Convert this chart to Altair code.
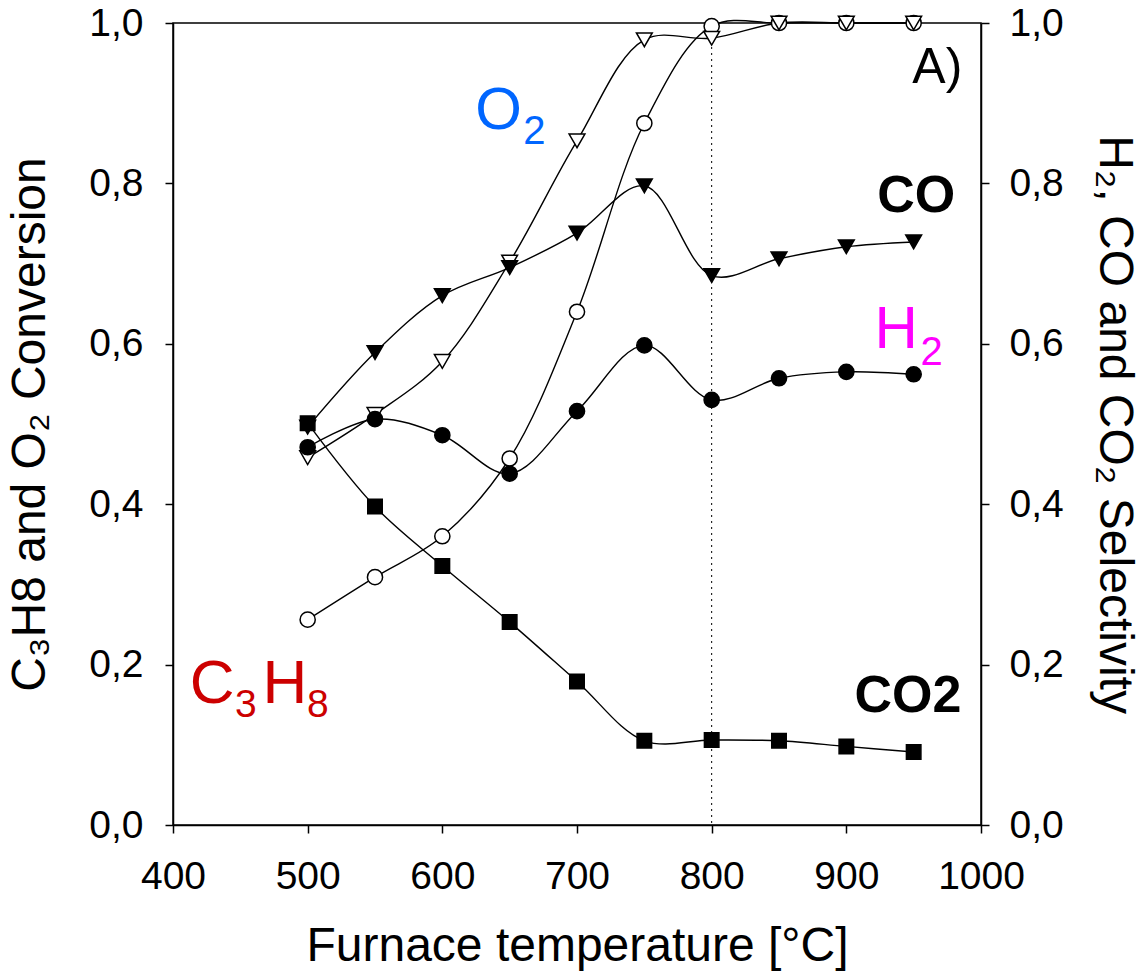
import altair as alt
import pandas as pd

FONT = "Liberation Sans, Arial, sans-serif"

temps = [500, 550, 600, 650, 700, 750, 800, 850, 900, 950]
c3h8_conv = [0.256, 0.309, 0.360, 0.457, 0.640, 0.875, 0.996, 1.0, 1.0, 1.0]
o2_conv = [0.458, 0.512, 0.578, 0.702, 0.853, 0.979, 0.981, 1.0, 1.0, 1.0]
co_sel = [0.496, 0.589, 0.660, 0.695, 0.738, 0.797, 0.685, 0.706, 0.721, 0.727]
h2_sel = [0.471, 0.506, 0.486, 0.438, 0.516, 0.598, 0.530, 0.557, 0.565, 0.562]
co2_sel = [0.501, 0.397, 0.323, 0.253, 0.179, 0.105, 0.106, 0.105, 0.098, 0.091]

x_ticks = [400, 500, 600, 700, 800, 900, 1000]
y_ticks = [0.0, 0.2, 0.4, 0.6, 0.8, 1.0]
marker_line_temp = [800]

# annotation labels (text, x, y, size, color)
lab_text = ["O", "2", "H", "2", "C", "3", "H", "8", "A)"]
lab_x = [624.5, 660.0, 921.0, 955.0, 412.5, 446.0, 466.5, 499.5, 949.0]
lab_y = [0.868, 0.849, 0.595, 0.574, 0.152, 0.135, 0.152, 0.135, 0.925]
lab_size = [60, 40, 60, 40, 62, 39, 62, 39, 50]
lab_color = ["#0066FF", "#0066FF", "#FF00FF", "#FF00FF", "#CC0000", "#CC0000",
             "#CC0000", "#CC0000", "#000000"]

bold_text = ["CO", "CO2"]
bold_x = [923.0, 906.0]
bold_y = [0.764, 0.141]
bold_size = [52, 52]

def series_df(vals):
    return pd.DataFrame({"t": temps, "v": vals})

label_expr = "replace(format(datum.value, '.1f'), '.', ',')"

x_enc = alt.X(
    "t:Q",
    scale=alt.Scale(domain=[400, 1000], nice=False, zero=False),
    axis=alt.Axis(
        values=x_ticks, title="Furnace temperature [°C]", grid=False,
        labelFontSize=39, titleFontSize=48, tickSize=8, labelPadding=24,
        titlePadding=26, format="d", labelFlush=False,
    ),
)

yscale = alt.Scale(domain=[0, 1], nice=False, zero=False)

def y_enc(axis=None):
    if axis is None:
        return alt.Y("v:Q", scale=yscale, axis=None)
    return alt.Y("v:Q", scale=yscale, axis=axis)

left_axis = alt.Axis(
    orient="left", values=y_ticks, labelExpr=label_expr, grid=False,
    title="C\u2083H8 and O\u2082 Conversion", labelFontSize=39, titleFontSize=48,
    tickSize=8, labelPadding=22, titlePadding=34, labelFlush=False,
)
right_axis = alt.Axis(
    orient="right", values=y_ticks, labelExpr=label_expr, grid=False,
    title="H\u2082, CO and CO\u2082 Selectivity", labelFontSize=39, titleFontSize=48,
    tickSize=8, labelPadding=20, titlePadding=26, labelFlush=False,
)

def line_layer(vals, axis=None):
    return alt.Chart(series_df(vals)).mark_line(
        color="black", strokeWidth=1.4, interpolate="catmull-rom"
    ).encode(x=x_enc, y=y_enc(axis))

def point_layer(vals, shape, fill, size):
    return alt.Chart(series_df(vals)).mark_point(
        shape=shape, filled=True, fill=fill, stroke="black", strokeWidth=1.5,
        size=size, opacity=1,
    ).encode(x=x_enc, y=y_enc())

rule = alt.Chart(pd.DataFrame({"t": marker_line_temp})).mark_rule(
    color="black", strokeWidth=1, strokeDash=[2, 4]
).encode(x=x_enc)

lab_df = pd.DataFrame({"txt": lab_text, "t": lab_x, "v": lab_y,
                       "s": lab_size, "c": lab_color})
labels = alt.Chart(lab_df).mark_text(
    align="left", baseline="alphabetic", font=FONT
).encode(
    x=x_enc, y=y_enc(), text="txt:N",
    size=alt.Size("s:Q", scale=None, legend=None),
    color=alt.Color("c:N", scale=None, legend=None),
)

bold_df = pd.DataFrame({"txt": bold_text, "t": bold_x, "v": bold_y, "s": bold_size})
bold_labels = alt.Chart(bold_df).mark_text(
    align="left", baseline="alphabetic", font=FONT, fontWeight="bold", color="black"
).encode(
    x=x_enc, y=y_enc(), text="txt:N",
    size=alt.Size("s:Q", scale=None, legend=None),
)

chart = alt.layer(
    rule,
    line_layer(c3h8_conv, left_axis),
    line_layer(o2_conv),
    line_layer(co_sel, right_axis),
    line_layer(h2_sel),
    line_layer(co2_sel),
    point_layer(c3h8_conv, "circle", "white", 230),
    point_layer(o2_conv, "triangle-down", "white", 250),
    point_layer(h2_sel, "circle", "black", 230),
    point_layer(co_sel, "triangle-down", "black", 250),
    point_layer(co2_sel, "square", "black", 210),
    labels,
    bold_labels,
).resolve_scale(y="independent").properties(
    width=808, height=802,
    autosize=alt.AutoSizeParams(type="none"),
    padding={"left": 173, "top": 23, "right": 161, "bottom": 146},
).configure_view(
    stroke="black", strokeWidth=1.5
).configure_axis(
    labelFont=FONT, titleFont=FONT, labelColor="black", titleColor="black",
    domainColor="black", tickColor="black", domainWidth=1.5, tickWidth=1.5,
    titleFontWeight="normal",
)

chart.save("out.html", embed_options={"renderer": "svg", "actions": False})
